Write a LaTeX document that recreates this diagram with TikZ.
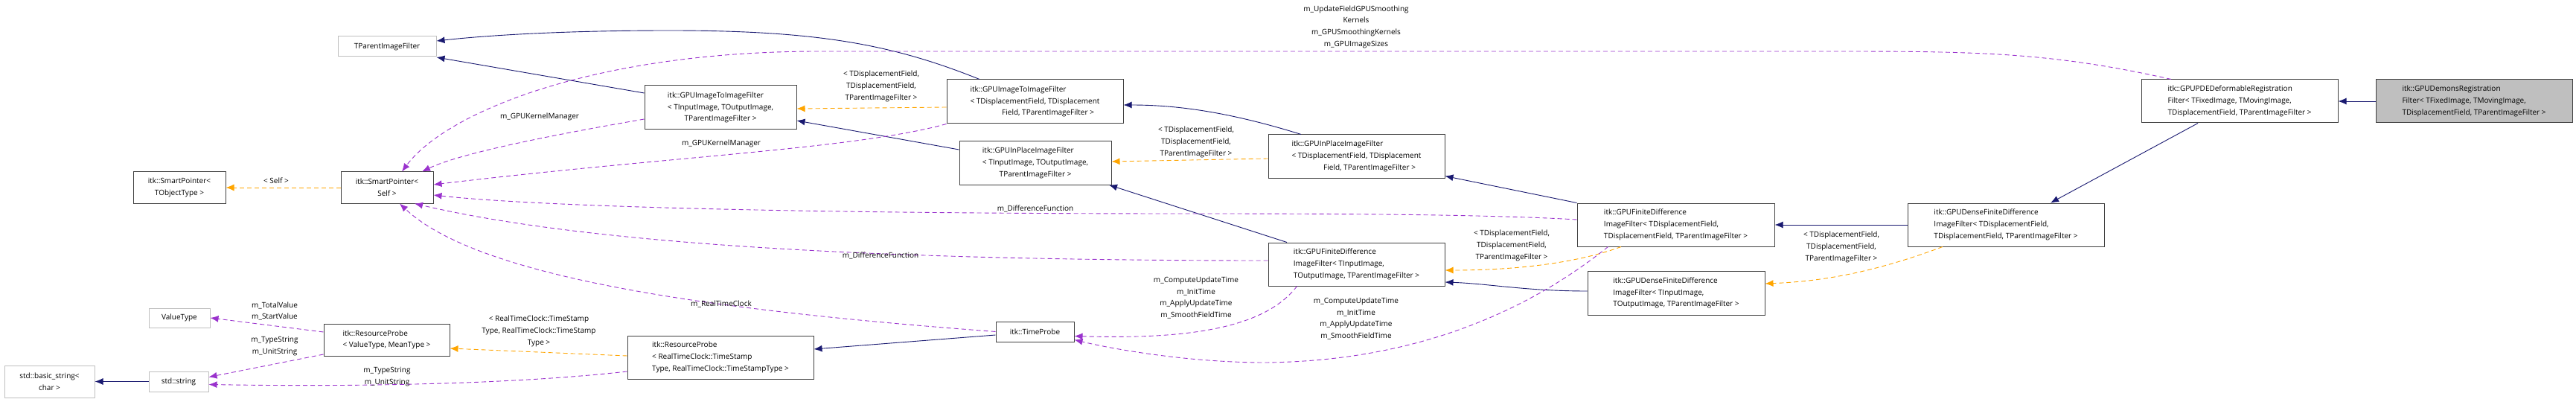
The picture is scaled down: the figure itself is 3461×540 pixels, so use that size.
\documentclass[tikz,border=0pt]{standalone}
\usepackage{fontspec}
\setmainfont{Open Sans}
\usetikzlibrary{arrows.meta}
\definecolor{navy}{RGB}{25,25,112}
\definecolor{purp}{RGB}{154,50,205}
\definecolor{orng}{RGB}{255,165,0}
\definecolor{dgray}{RGB}{64,64,64}
\definecolor{lgray}{RGB}{191,191,191}
\begin{document}
\begin{tikzpicture}[x=1pt,y=-1pt,
  every node/.style={font=\fontsize{10}{15.7}\selectfont},
  box/.style={draw=dgray,line width=1pt,fill=white,inner sep=0pt,align=left},
  gbox/.style={box,draw=lgray},
  inh/.style={navy,line width=0.9pt,-{Latex[length=11pt,width=9pt]}},
  tmpl/.style={orng,line width=0.9pt,dash pattern=on 6pt off 4pt,-{Latex[length=11pt,width=9pt]}},
  use/.style={purp,line width=0.9pt,dash pattern=on 6pt off 4pt,-{Latex[length=11pt,width=9pt]}},
  lbl/.style={inner sep=0pt,align=center}]
\useasboundingbox (0,0) rectangle (3461,540);
% nodes
\node[gbox,minimum width=132,minimum height=27] (tpif) at (520,62.5) {TParentImageFilter};
\node[box,minimum width=124,minimum height=42,align=center] (spT) at (241,252) {itk::SmartPointer\textless\\TObjectType \textgreater};
\node[box,minimum width=124,minimum height=42,align=center] (spS) at (520,252) {itk::SmartPointer\textless\\Self \textgreater};
\node[gbox,minimum width=82,minimum height=26] (vt) at (241,427) {ValueType};
\node[gbox,minimum width=121,minimum height=43,align=center] (bs) at (66.5,512.5) {std::basic\_string\textless\\char \textgreater};
\node[gbox,minimum width=80,minimum height=27] (ss) at (240,512.5) {std::string};
\node[box,minimum width=169,minimum height=43] (rpv) at (519.5,456.5) {itk::ResourceProbe\\\textless{} ValueType, MeanType \textgreater};
\node[box,minimum width=250,minimum height=58] (rpr) at (968,480) {itk::ResourceProbe\\\textless{} RealTimeClock::TimeStamp\\Type, RealTimeClock::TimeStampType \textgreater};
\node[box,minimum width=204,minimum height=59] (i2iI) at (968,144.5) {itk::GPUImageToImageFilter\\\textless{} TInputImage, TOutputImage,\\\hphantom{\textless{} TIn}TParentImageFilter \textgreater};
\node[box,minimum width=237,minimum height=59] (i2iD) at (1390.5,136.5) {itk::GPUImageToImageFilter\\\textless{} TDisplacementField, TDisplacement\\\hphantom{\textless{} TDispla}Field, TParentImageFilter \textgreater};
\node[box,minimum width=204,minimum height=58] (ipI) at (1391,219) {itk::GPUInPlaceImageFilter\\\textless{} TInputImage, TOutputImage,\\\hphantom{\textless{} TIn}TParentImageFilter \textgreater};
\node[box,minimum width=237,minimum height=58] (ipD) at (1822.5,210) {itk::GPUInPlaceImageFilter\\\textless{} TDisplacementField, TDisplacement\\\hphantom{\textless{} TDispla}Field, TParentImageFilter \textgreater};
\node[box,minimum width=237,minimum height=58] (fdI) at (1822.5,355) {itk::GPUFiniteDifference\\ImageFilter\textless{} TInputImage,\\ TOutputImage, TParentImageFilter \textgreater};
\node[box,minimum width=105,minimum height=27] (tp) at (1390.5,445.5) {itk::TimeProbe};
\node[box,minimum width=265,minimum height=58] (fdD) at (2251.5,302) {itk::GPUFiniteDifference\\ImageFilter\textless{} TDisplacementField,\\ TDisplacementField, TParentImageFilter \textgreater};
\node[box,minimum width=238,minimum height=59] (dfI) at (2252,393.5) {itk::GPUDenseFiniteDifference\\ImageFilter\textless{} TInputImage,\\ TOutputImage, TParentImageFilter \textgreater};
\node[box,minimum width=264,minimum height=58] (dfD) at (2695,302) {itk::GPUDenseFiniteDifference\\ImageFilter\textless{} TDisplacementField,\\ TDisplacementField, TParentImageFilter \textgreater};
\node[box,minimum width=264,minimum height=58] (pde) at (3009,136) {itk::GPUPDEDeformableRegistration\\Filter\textless{} TFixedImage, TMovingImage,\\ TDisplacementField, TParentImageFilter \textgreater};
\node[box,fill=lgray,minimum width=264,minimum height=58] (dem) at (3324,136) {itk::GPUDemonsRegistration\\Filter\textless{} TFixedImage, TMovingImage,\\ TDisplacementField, TParentImageFilter \textgreater};
% inheritance
\draw[inh] ([xshift=-74.5]i2iD.north) .. controls (1200,60) and (1100,41) .. (900,41) .. controls (750,41) and (650,48) .. ([yshift=7.5]tpif.east);
\draw[inh] ([yshift=19.5]i2iI.west) -- ([yshift=-14.5]tpif.east);
\draw[inh] ([yshift=18]ipI.west) -- ([yshift=-17.5]i2iI.east);
\draw[inh] ([xshift=-74.5]ipD.north) .. controls (1650,150) and (1580,141) .. ([yshift=-4.5]i2iD.east);
\draw[inh] ([xshift=-93.5]fdI.north) -- ([xshift=99]ipI.south);
\draw[inh] (fdD.north west) -- ([yshift=3]ipD.south east);
\draw[inh] ([yshift=2.5]dfI.west) .. controls (2050,391) and (2000,381) .. ([yshift=-24]fdI.east);
\draw[inh] (dfD.west) -- (fdD.east);
\draw[inh] ([xshift=-56]pde.south) -- ([xshift=60]dfD.north);
\draw[inh] (dem.west) -- (pde.east);
\draw[inh] ([yshift=-4.5]tp.west) -- ([yshift=11]rpr.east);
\draw[inh] (ss.west) -- (bs.east);
% template
\draw[tmpl] (spS.west) -- (spT.east);
\node[lbl] (la) at (371,243) {\textless{} Self \textgreater};
\draw[tmpl] ([yshift=-7.5]i2iD.west) -- ([yshift=-1.5]i2iI.east);
\node[lbl] (lb) at (1184,116) {\textless{} TDisplacementField,\\TDisplacementField,\\TParentImageFilter \textgreater};
\draw[tmpl] ([yshift=-3]ipD.west) -- ([yshift=2]ipI.east);
\node[lbl] (lc) at (1607,191) {\textless{} TDisplacementField,\\TDisplacementField,\\TParentImageFilter \textgreater};
\draw[tmpl] ([xshift=-73.5]fdD.south) .. controls (2100,360) and (2000,363) .. ([yshift=-8]fdI.east);
\node[lbl] (ld) at (2031,330) {\textless{} TDisplacementField,\\TDisplacementField,\\TParentImageFilter \textgreater};
\draw[tmpl] ([xshift=-85]dfD.south) .. controls (2520,365) and (2450,378) .. ([yshift=12.5]dfI.east);
\node[lbl] (le) at (2474,332) {\textless{} TDisplacementField,\\TDisplacementField,\\TParentImageFilter \textgreater};
\draw[tmpl] ([yshift=2]rpr.west) -- ([yshift=-11.5]rpv.east);
\node[lbl] (lf) at (724,445) {\textless{} RealTimeClock::TimeStamp\\Type, RealTimeClock::TimeStamp\\Type \textgreater};
% usage
\draw[use] ([xshift=-92]pde.north) .. controls (2750,69) and (2650,69) .. (2450,69) -- (1100,69) .. controls (800,69) and (600,150) .. ([xshift=20]spS.north);
\node[lbl] (l1) at (1822,36) {m\_UpdateFieldGPUSmoothing\\Kernels\\m\_GPUSmoothingKernels\\m\_GPUImageSizes};
\draw[use] ([yshift=-15.5]i2iI.west) .. controls (750,180) and (620,205) .. ([xshift=47]spS.north);
\node[lbl] (l2) at (725,157) {m\_GPUKernelManager};
\draw[use] (i2iD.south west) .. controls (1150,200) and (900,210) .. ([yshift=4]spS.east);
\node[lbl] (l3) at (969,193) {m\_GPUKernelManager};
\draw[use] ([yshift=7]fdD.west) .. controls (2000,288) and (1800,287) .. (1600,287) .. controls (1000,287) and (700,275) .. ([yshift=-10]spS.east);
\node[lbl] (l4) at (1391,280) {m\_DifferenceFunction};
\draw[use] ([yshift=5]fdI.west) .. controls (1200,350) and (800,330) .. ([xshift=37]spS.south);
\node[lbl] (l5) at (1183,343) {m\_DifferenceFunction};
\draw[use] (tp.west) .. controls (1000,420) and (650,380) .. ([xshift=17]spS.south);
\node[lbl] (l6) at (969,408) {m\_RealTimeClock};
\draw[use] ([xshift=-80]fdI.south) .. controls (1700,440) and (1600,456) .. ([yshift=-6]tp.east);
\node[lbl] (l7) at (1607,400) {m\_ComputeUpdateTime\\m\_InitTime\\m\_ApplyUpdateTime\\m\_SmoothFieldTime};
\draw[use] ([xshift=-91]fdD.south) .. controls (2050,420) and (1900,485) .. (1700,487) .. controls (1600,487) and (1500,470) .. ([yshift=-11]tp.east);
\node[lbl] (l8) at (1822,428) {m\_ComputeUpdateTime\\m\_InitTime\\m\_ApplyUpdateTime\\m\_SmoothFieldTime};
\draw[use] ([yshift=10.5]rpv.west) -- (vt.east);
\node[lbl] (l9) at (369,418) {m\_TotalValue\\m\_StartValue};
\draw[use] ([yshift=-19.5]rpv.west) -- ([yshift=6]ss.east);
\node[lbl] (l10) at (369,465) {m\_TypeString\\m\_UnitString};
\draw[use] ([yshift=-19]rpr.west) .. controls (700,515) and (500,520) .. ([yshift=-4]ss.east);
\node[lbl] (l11) at (520,506) {m\_TypeString\\m\_UnitString};
\end{tikzpicture}
\end{document}
